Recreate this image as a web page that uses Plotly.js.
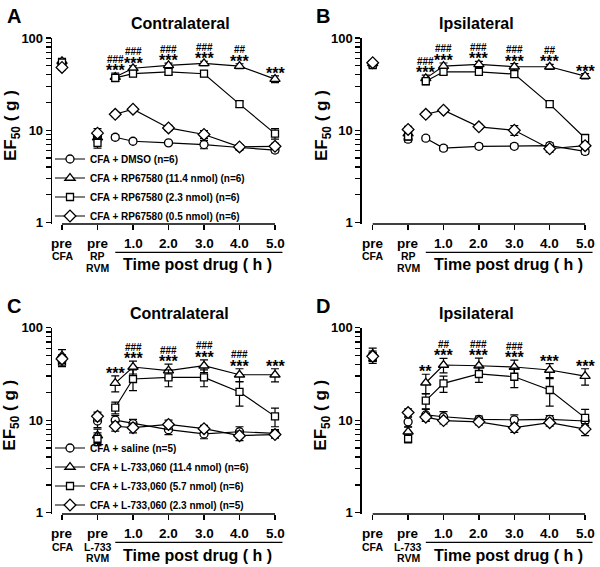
<!DOCTYPE html>
<html><head><meta charset="utf-8">
<script src="https://cdn.plot.ly/plotly-3.0.1.min.js"></script>
<style>html,body{margin:0;padding:0;background:#fff}#chart{width:600px;height:567px}</style>
</head><body><div id="chart"></div>
<script>
// ---------- categories / tick labels ----------
const tickX = [-1, 0, 1, 2, 3, 4, 5];
const tickLabels = ['pre', 'pre', '1.0', '2.0', '3.0', '4.0', '5.0'];
const preX = [-1, 0];
const timeX = [0.5, 1, 2, 3, 4, 5];
const subTopRP = ['CFA', 'RP'];
const subBotRP = ['', 'RVM'];
const subTopL = ['CFA', 'L-733'];
const subBotL = ['', 'RVM'];
const yMajorVals = [1, 10, 100];
const yMajorText = ['1', '10', '100'];
const yMinorVals = [2,3,4,5,6,7,8,9,20,30,40,50,60,70,80,90];

const namesRP = ['CFA + DMSO (n=6)', 'CFA + RP67580 (11.4 nmol) (n=6)', 'CFA + RP67580 (2.3 nmol) (n=6)', 'CFA + RP67580 (0.5 nmol) (n=6)'];
const namesL = ['CFA + saline (n=5)', 'CFA + L-733,060 (11.4 nmol) (n=6)', 'CFA + L-733,060 (5.7 nmol) (n=6)', 'CFA + L-733,060 (2.3 nmol) (n=5)'];

// ---------- values: [pre CFA, pre RVM, 0.5, 1, 2, 3, 4, 5 h] ----------
// Panel A (contralateral, RP67580)
const aVeh  = [52, 8.5, 8.4, 7.6, 7.3, 7.0, 6.5, 6.1];
const aHigh = [56, 8.3, 37.7, 47, 50.5, 53, 49.6, 35.8];
const aMid  = [54, 7.3, 37, 41, 43, 41, 19.2, 9.2];
const aLow  = [48, 9.3, 14.9, 16.9, 10.6, 9.0, 6.6, 6.7];
const aVehErr  = [3, 0.6, 0.5, 0.4, 0.3, 0.7, 0.4, 0.4];
const aHighErr = [4, 0.8, 4, 3, 3, 3, 3, 3];
const aMidErr  = [3, 0.9, 3, 3, 3, 3, 1.5, 1.2];
const aLowErr  = [3, 1.1, 0.9, 0.9, 0.7, 0.9, 0.4, 0.5];
// Panel B (ipsilateral, RP67580)
const bVeh  = [52, 8.0, 8.2, 6.4, 6.7, 6.7, 6.8, 5.9];
const bHigh = [53, 9.2, 36.5, 49.6, 51.8, 48.8, 48.8, 38.6];
const bMid  = [51, 8.6, 34, 43, 43, 40.6, 19.2, 8.2];
const bLow  = [54, 10.2, 14.9, 16.5, 10.9, 10.0, 6.3, 6.8];
const bVehErr  = [3, 0.5, 0.5, 0.4, 0.4, 0.4, 0.5, 0.4];
const bHighErr = [3, 0.8, 3, 4, 4, 4, 3, 2.5];
const bMidErr  = [3, 0.8, 3, 3, 3, 3, 1.5, 0.8];
const bLowErr  = [3, 0.8, 0.9, 0.8, 0.7, 1.2, 0.5, 0.5];
// Panel C (contralateral, L-733,060)
const cVeh  = [45, 9.8, 10.0, 9.2, 7.9, 7.1, 7.5, 7.2];
const cHigh = [49.8, 6.8, 25.2, 37.6, 34.3, 38.8, 31, 31];
const cMid  = [43, 6.3, 13.7, 27.9, 29, 29, 20.2, 11.0];
const cLow  = [46, 11.0, 8.6, 8.3, 9.0, 8.1, 6.8, 7.0];
const cVehErr  = [5, 1.5, 1.2, 1.0, 0.9, 0.8, 1.0, 0.7];
const cHighErr = [8, 1.2, 5, 6, 6, 6, 5, 5];
const cMidErr  = [5, 1.0, 2, 7, 6, 6, 6, 2.5];
const cLowErr  = [5, 1.2, 1.0, 1.0, 1.0, 0.7, 0.8, 0.6];
// Panel D (ipsilateral, L-733,060)
const dVeh  = [50, 9.6, 11.4, 10.9, 10.2, 10.1, 10.2, 9.8];
const dHigh = [52, 7.5, 25.4, 39.5, 38.8, 37.6, 34.9, 30];
const dMid  = [47, 6.3, 16.3, 25, 31.6, 29.5, 21.2, 10.6];
const dLow  = [49, 12.1, 10.8, 9.9, 9.6, 8.3, 9.4, 8.0];
const dVehErr  = [6, 1.2, 1.7, 1.5, 0.9, 1.3, 1.0, 1.0];
const dHighErr = [8, 1.0, 6, 7, 8, 7, 6, 6];
const dMidErr  = [6, 0.6, 3, 5, 6, 7, 7, 2.5];
const dLowErr  = [5, 1.2, 1.0, 0.8, 0.7, 0.9, 0.8, 1.2];

// significance labels at time points 0.5..5 h
const aStars = ['***','***','***','***','***','***'];
const aHash  = ['###','###','###','###','##',''];
const bStars = ['***','***','***','***','***','***'];
const bHash  = ['###','###','###','###','##',''];
const cStars = ['***','***','***','***','***','***'];
const cHash  = ['','###','###','###','###',''];
const dStars = ['**','***','***','***','***','***'];
const dHash  = ['','##','###','###','',''];

// ---------- styling / geometry ----------
const W = 600, H = 567;
const FONT = 'Arial, "Liberation Sans", Helvetica, sans-serif';
const px2x = p => p / W;
const px2y = p => 1 - p / H;
const symbols = ['circle', 'triangle-up', 'square', 'diamond'];
const msizes = [8, 9, 7, 9];

const panels = [
  {letter:'A', title:'Contralateral', titleCx:180, axisX:52, tick0:62, sp:35.5, yTop:38, dec:92.25, xAxisPx:224, yTitleX:11.5,
   data:[aVeh,aHigh,aMid,aLow], err:[aVehErr,aHighErr,aMidErr,aLowErr], names:namesRP, stars:aStars, hash:aHash, subTop:subTopRP, subBot:subBotRP, legend:'legend', showLegend:true},
  {letter:'B', title:'Ipsilateral', titleCx:476.7, axisX:361.7, tick0:372.7, sp:35.4, yTop:38, dec:92.25, xAxisPx:224, yTitleX:322.5,
   data:[bVeh,bHigh,bMid,bLow], err:[bVehErr,bHighErr,bMidErr,bLowErr], names:namesRP, stars:bStars, hash:bHash, subTop:subTopRP, subBot:subBotRP, legend:'legend', showLegend:false},
  {letter:'C', title:'Contralateral', titleCx:179, axisX:52, tick0:62, sp:35.5, yTop:327.7, dec:92.5, xAxisPx:514, yTitleX:11.5,
   data:[cVeh,cHigh,cMid,cLow], err:[cVehErr,cHighErr,cMidErr,cLowErr], names:namesL, stars:cStars, hash:cHash, subTop:subTopL, subBot:subBotL, legend:'legend2', showLegend:true},
  {letter:'D', title:'Ipsilateral', titleCx:476.5, axisX:361.7, tick0:372.7, sp:35.4, yTop:327.7, dec:92.5, xAxisPx:514, yTitleX:322.5,
   data:[dVeh,dHigh,dMid,dLow], err:[dVehErr,dHighErr,dMidErr,dLowErr], names:namesL, stars:dStars, hash:dHash, subTop:subTopL, subBot:subBotL, legend:'legend2', showLegend:false}
];

const traces = [];
const annotations = [];
const shapes = [];
const layout = {
  width: W, height: H,
  margin: {l:0, r:0, t:0, b:0},
  paper_bgcolor: '#fff', plot_bgcolor: 'rgba(0,0,0,0)',
  showlegend: true,
  font: {family: FONT, color: '#000'},
};

const bold = (size) => ({family: FONT, size: size, color: '#000', weight: 'bold'});

panels.forEach((P, i) => {
  const n = i === 0 ? '' : String(i + 1);
  const xId = 'x' + n, yId = 'y' + n;
  const xa = 'xaxis' + n, ya = 'yaxis' + n;

  const rightPx = P.tick0 + 6 * P.sp + 12;
  layout[xa] = {
    domain: [px2x(P.axisX), px2x(rightPx)],
    range: [-1 - (P.tick0 - P.axisX) / P.sp, 5 + 12 / P.sp],
    anchor: yId, tickmode: 'array', tickvals: tickX,
    ticks: 'outside', ticklen: 5, tickwidth: 1.3, tickcolor: '#000',
    showticklabels: false, showline: false, showgrid: false, zeroline: false
  };
  layout[ya] = {
    type: 'log',
    domain: [px2y(P.xAxisPx), px2y(P.yTop)],
    range: [2 - (P.xAxisPx - P.yTop) / P.dec, 2],
    anchor: xId, tickmode: 'array', tickvals: yMajorVals, ticktext: yMajorText,
    ticks: 'outside', ticklen: 5, tickwidth: 1.3, tickcolor: '#000',
    minor: {tickmode: 'array', tickvals: yMinorVals, ticks: 'outside', ticklen: 5, tickwidth: 1.3, tickcolor: '#000', showgrid: false},
    showline: true, linewidth: 1.3, linecolor: '#000',
    showgrid: false, zeroline: false, tickfont: bold(13)
  };

  // series
  P.data.forEach((vals, s) => {
    const marker = {symbol: symbols[s], size: msizes[s], color: '#fff', line: {color: '#000', width: 1.3}};
    const errStyle = (arr) => ({type: 'data', array: arr, visible: true, color: '#000', thickness: 1.2, width: 4});
    traces.push({
      type: 'scatter', mode: 'lines+markers', xaxis: xId, yaxis: yId,
      x: timeX, y: vals.slice(2), error_y: errStyle(P.err[s].slice(2)),
      name: P.names[s], legend: P.legend, showlegend: P.showLegend,
      line: {color: '#000', width: 1.2}, marker: marker, cliponaxis: false
    });
    traces.push({
      type: 'scatter', mode: 'markers', xaxis: xId, yaxis: yId,
      x: preX, y: vals.slice(0, 2), error_y: errStyle(P.err[s].slice(0, 2)),
      name: P.names[s], showlegend: false, marker: marker, cliponaxis: false
    });
  });

  // significance marks above the highest-dose series
  const hi = P.data[1], hiErr = P.err[1];
  timeX.forEach((tx, k) => {
    const top = Math.log10(hi[k + 2] + hiErr[k + 2]);
    if (P.stars[k]) annotations.push({xref: xId, yref: yId, x: tx, y: top, text: P.stars[k],
      showarrow: false, xanchor: 'center', yanchor: 'middle', yshift: 2.5, font: bold(16)});
    if (P.hash[k]) annotations.push({xref: xId, yref: yId, x: tx, y: top, text: P.hash[k],
      showarrow: false, xanchor: 'center', yanchor: 'middle', yshift: 14, font: bold(10)});
  });

  // x-axis line (detached, from pre CFA to 5 h)
  shapes.push({type: 'line', xref: xId, yref: yId + ' domain', x0: tickX[0], x1: tickX[tickX.length - 1], y0: 0, y1: 0,
    line: {color: '#000', width: 1.3}});
  // line under time labels
  shapes.push({type: 'line', xref: xId, yref: 'paper', x0: 0.5, x1: 5.21,
    y0: px2y(P.xAxisPx + 28.3), y1: px2y(P.xAxisPx + 28.3), line: {color: '#000', width: 1.3}});

  // tick labels
  tickX.forEach((tx, k) => {
    annotations.push({xref: xId, yref: 'paper', x: tx, y: px2y(P.xAxisPx + 19.7), text: tickLabels[k],
      showarrow: false, xanchor: 'center', yanchor: 'middle', font: bold(13.5)});
  });
  preX.forEach((tx, k) => {
    if (P.subTop[k]) annotations.push({xref: xId, yref: 'paper', x: tx, y: px2y(P.xAxisPx + 32.5), text: P.subTop[k],
      showarrow: false, xanchor: 'center', yanchor: 'middle', font: bold(10.5)});
    if (P.subBot[k]) annotations.push({xref: xId, yref: 'paper', x: tx, y: px2y(P.xAxisPx + 44.3), text: P.subBot[k],
      showarrow: false, xanchor: 'center', yanchor: 'middle', font: bold(10.5)});
  });
  annotations.push({xref: xId, yref: 'paper', x: 2.83, y: px2y(P.xAxisPx + 41), text: 'Time post drug ( h )',
    showarrow: false, xanchor: 'center', yanchor: 'middle', font: bold(16)});

  // y title
  annotations.push({xref: 'paper', yref: 'paper', x: px2x(P.yTitleX), y: px2y(P.yTop + 87.5),
    text: 'EF<sub>50</sub> ( g )', textangle: -90, showarrow: false, xanchor: 'center', yanchor: 'middle', font: bold(17)});
  // panel title
  annotations.push({xref: 'paper', yref: 'paper', x: px2x(P.titleCx), y: px2y(P.yTop - 14.5),
    text: P.title, showarrow: false, xanchor: 'center', yanchor: 'middle', font: bold(16)});
  // panel letter
  annotations.push({xref: 'paper', yref: 'paper', x: px2x(P.axisX - 38.5), y: px2y(P.yTop - 22),
    text: P.letter, showarrow: false, xanchor: 'center', yanchor: 'middle', font: bold(20)});
});

const legendStyle = (topPx) => ({
  x: px2x(50), xanchor: 'left', y: px2y(topPx), yanchor: 'top',
  bgcolor: 'rgba(0,0,0,0)', borderwidth: 0, font: bold(10), tracegroupgap: 0, itemwidth: 30
});
layout.legend = legendStyle(216 - 71.5);
layout.legend2 = legendStyle(505 - 71.5);
layout.annotations = annotations;
layout.shapes = shapes;

Plotly.newPlot('chart', traces, layout, {displayModeBar: false, staticPlot: true});
</script>
</body></html>
